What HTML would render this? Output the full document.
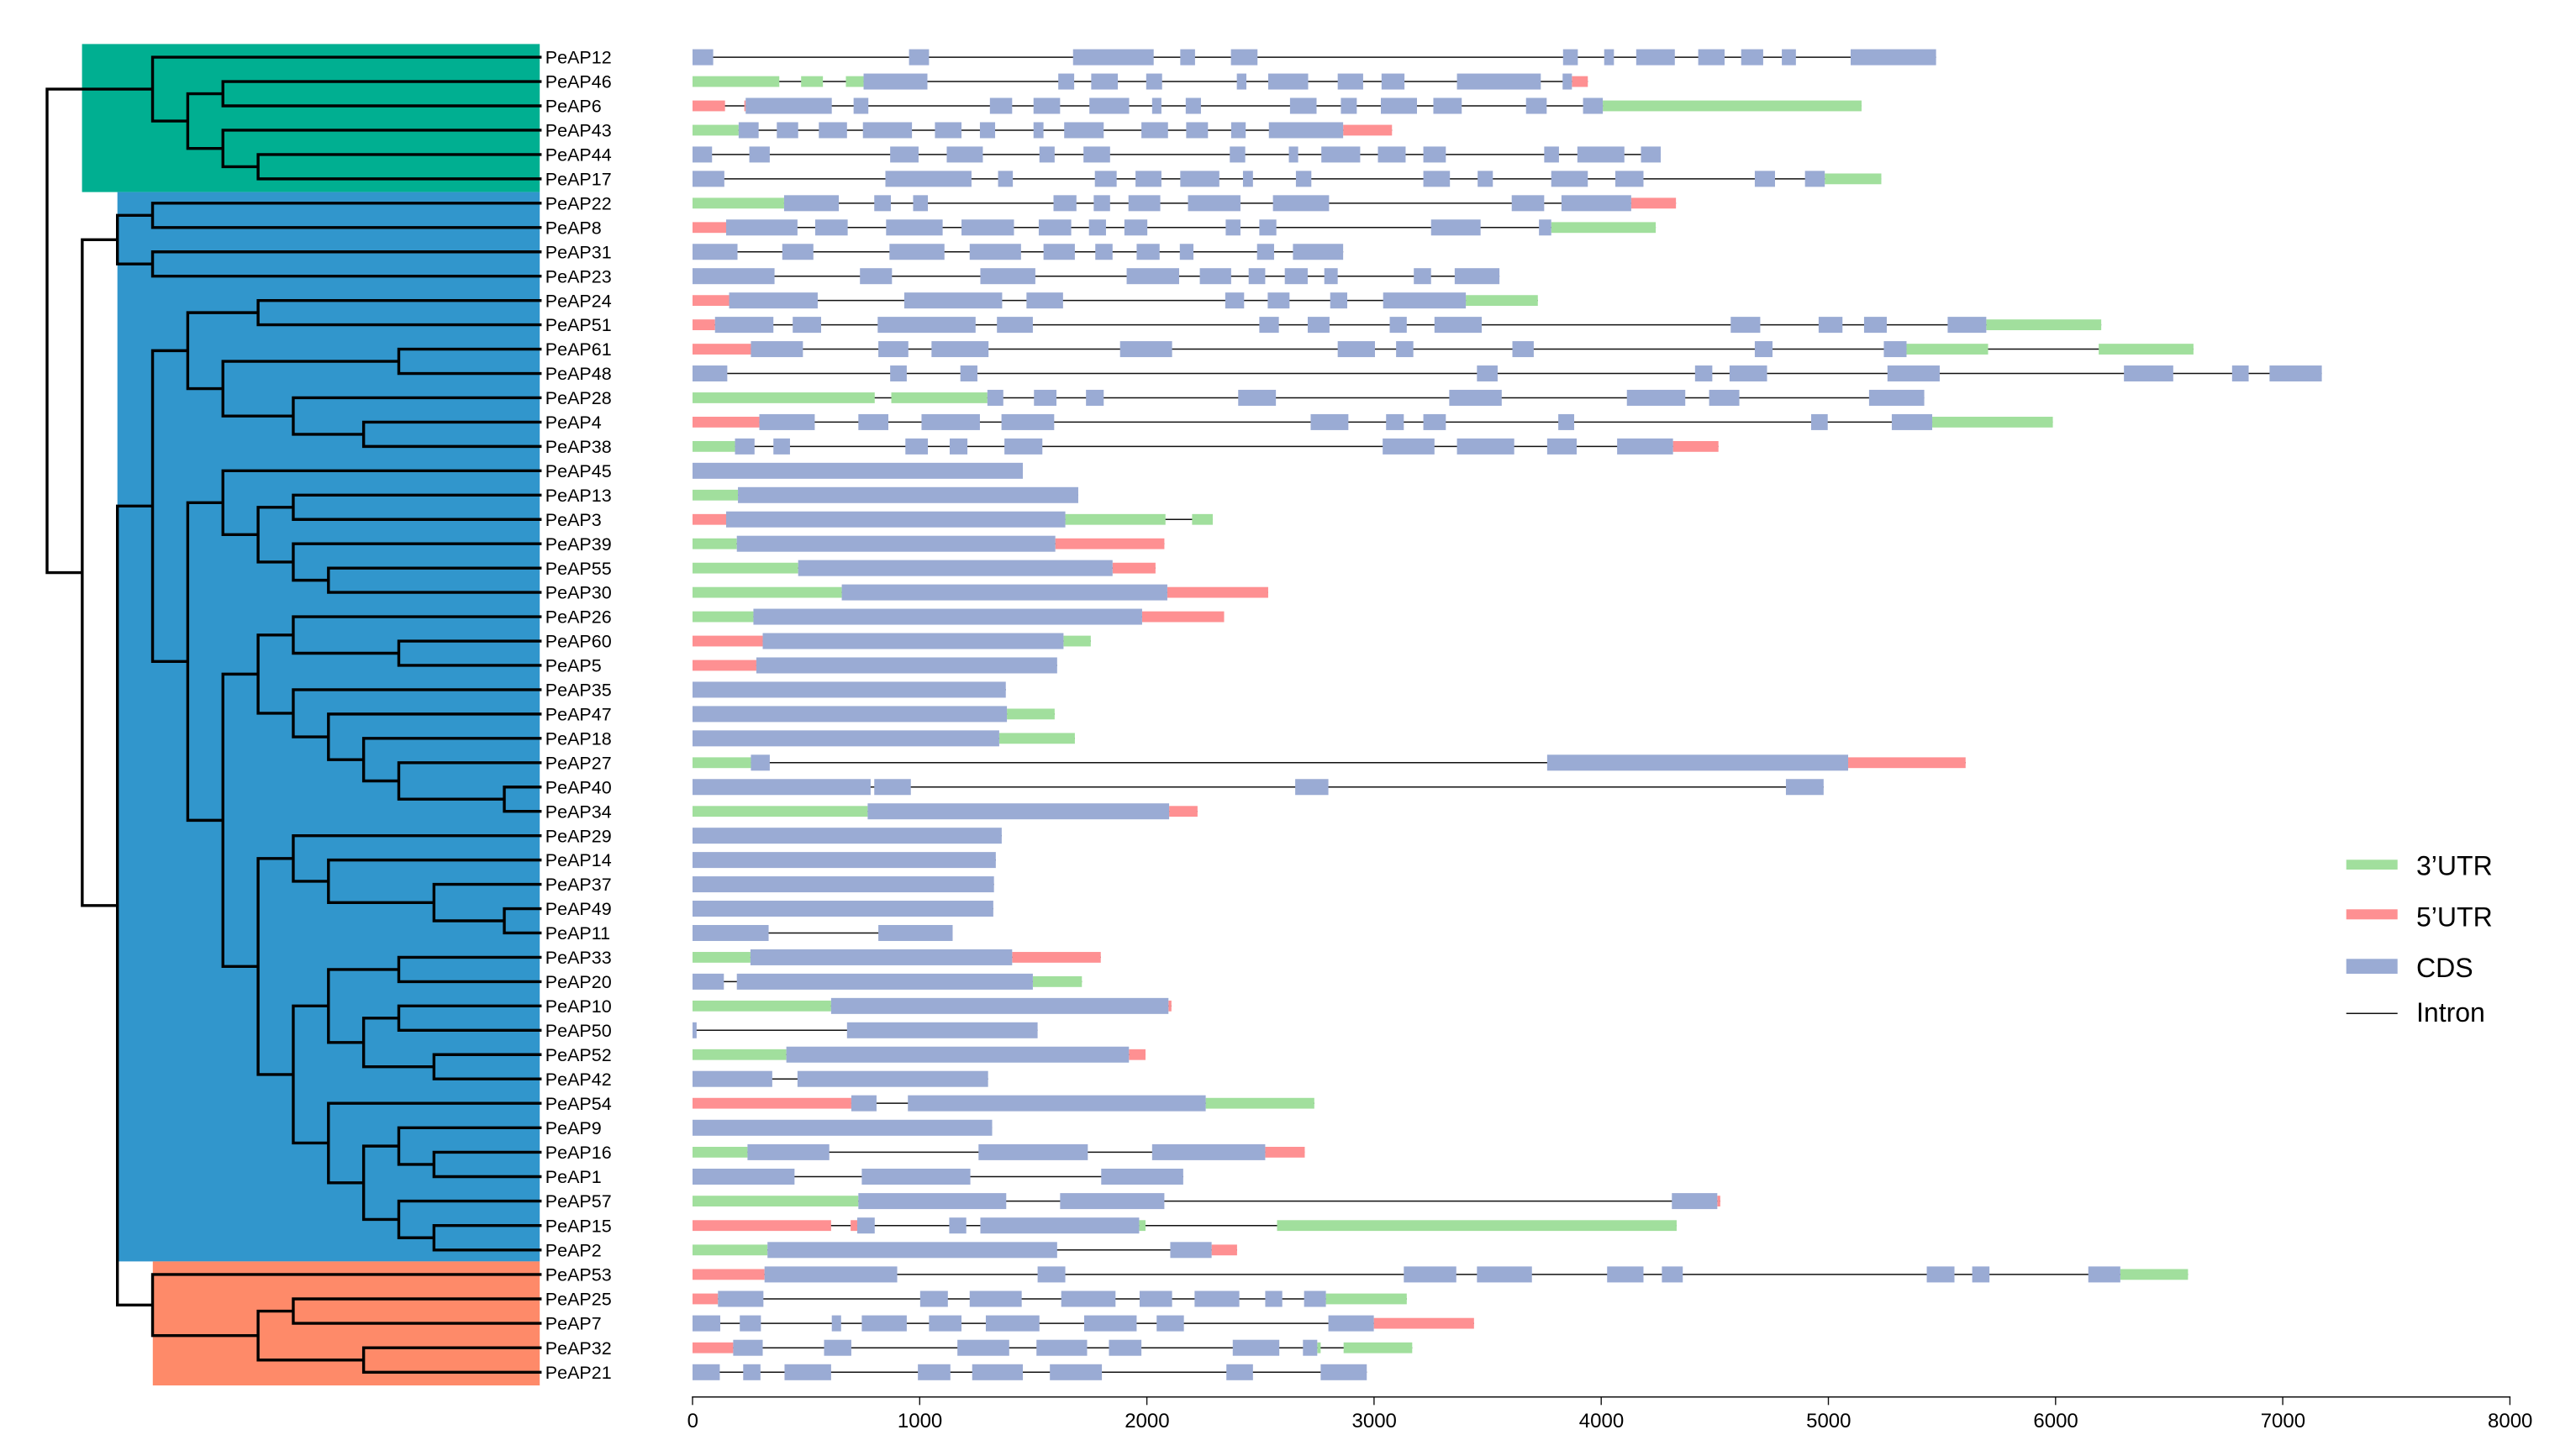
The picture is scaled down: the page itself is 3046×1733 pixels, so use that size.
<!DOCTYPE html>
<html lang="en">
<head>
<meta charset="utf-8">
<title>PeAP gene structure and phylogeny</title>
<style>
html,body{margin:0;padding:0;background:#fff;width:3046px;height:1733px;overflow:hidden}
svg{display:block}
text{font-family:"Liberation Sans",Arial,sans-serif;fill:#000}
</style>
</head>
<body>
<svg id="chart" xmlns="http://www.w3.org/2000/svg" width="3046" height="1733" viewBox="0 0 3046 1733">
  <rect x="0" y="0" width="3046" height="1733" fill="#ffffff"/>
  <g id="clades">
    <rect x="97.6" y="52.4" width="544.6" height="176.2" fill="#00AF91"/>
    <rect x="139.7" y="228.6" width="502.5" height="1272.8" fill="#3196CC"/>
    <rect x="181.8" y="1501.4" width="460.4" height="147.6" fill="#FE8A69"/>
  </g>
  <g id="tree"></g>
  <g id="labels"></g>
  <g id="genes"></g>
  <g id="axis"></g>
  <g id="legend">
    <g>
      <rect x="2791.7" y="1023.3" width="61" height="11.7" fill="#A1DF9D"/>
      <text x="2875" y="1041.7" font-size="32">3’UTR</text>
    </g>
    <g>
      <rect x="2791.7" y="1082.3" width="61" height="12" fill="#FE9092"/>
      <text x="2875" y="1102.3" font-size="32">5’UTR</text>
    </g>
    <g>
      <rect x="2791.7" y="1141.3" width="61" height="17.7" fill="#9AABD4"/>
      <text x="2875" y="1163" font-size="32">CDS</text>
    </g>
    <g>
      <line x1="2791.7" x2="2852.7" y1="1206.3" y2="1206.3" stroke="#111" stroke-width="1.5"/>
      <text x="2875" y="1216" font-size="32">Intron</text>
    </g>
  </g>
</svg>
<script>
// Tree topology: [depth, child, child]; a string is a tip.
const treeTopology = [0,
  [3,'PeAP12',[4,[5,'PeAP46','PeAP6'],[5,'PeAP43',[6,'PeAP44','PeAP17']]]],
  [1,
    [2,[3,'PeAP22','PeAP8'],[3,'PeAP31','PeAP23']],
    [2,
      [3,
        [4,
          [6,'PeAP24','PeAP51'],
          [5,[10,'PeAP61','PeAP48'],[7,'PeAP28',[9,'PeAP4','PeAP38']]]
        ],
        [4,
          [5,'PeAP45',[6,[7,'PeAP13','PeAP3'],[7,'PeAP39',[8,'PeAP55','PeAP30']]]],
          [5,
            [6,
              [7,'PeAP26',[10,'PeAP60','PeAP5']],
              [7,'PeAP35',[8,'PeAP47',[9,'PeAP18',[10,'PeAP27',[13,'PeAP40','PeAP34']]]]]
            ],
            [6,
              [7,'PeAP29',[8,'PeAP14',[11,'PeAP37',[13,'PeAP49','PeAP11']]]],
              [7,
                [8,[10,'PeAP33','PeAP20'],[9,[10,'PeAP10','PeAP50'],[11,'PeAP52','PeAP42']]],
                [8,'PeAP54',[9,[10,'PeAP9',[11,'PeAP16','PeAP1']],[10,'PeAP57',[11,'PeAP15','PeAP2']]]]
              ]
            ]
          ]
        ]
      ],
      [3,'PeAP53',[6,[7,'PeAP25','PeAP7'],[9,'PeAP32','PeAP21']]]
    ]
  ]
];

// Coding exons, base pairs from gene start.
const cds = {
PeAP12:[[0,91],[953,1041],[1675,2030],[2147,2212],[2370,2487],[3832,3897],[4013,4056],[4154,4324],[4427,4543],[4616,4713],[4795,4857],[5098,5474]],
PeAP46:[[753,1034],[1610,1680],[1755,1872],[1997,2067],[2396,2438],[2534,2710],[2840,2952],[3033,3134],[3365,3734],[3830,3871]],
PeAP6:[[234,613],[709,774],[1309,1407],[1501,1618],[1747,1922],[2023,2064],[2171,2238],[2630,2747],[2854,2924],[3030,3189],[3261,3386],[3669,3760],[3920,4007]],
PeAP43:[[203,291],[371,465],[556,680],[750,966],[1067,1184],[1265,1332],[1501,1545],[1636,1810],[1976,2093],[2173,2269],[2371,2435],[2537,2864]],
PeAP44:[[0,86],[250,340],[870,995],[1119,1278],[1527,1594],[1721,1838],[2365,2433],[2625,2666],[2768,2939],[3017,3139],[3217,3316],[3749,3814],[3895,4102],[4175,4262]],
PeAP17:[[0,140],[849,1228],[1345,1410],[1771,1867],[1950,2064],[2147,2319],[2423,2467],[2656,2724],[3217,3334],[3456,3523],[3780,3941],[4062,4186],[4676,4765],[4897,4984]],
PeAP22:[[403,644],[800,873],[971,1036],[1589,1690],[1766,1838],[1919,2059],[2181,2412],[2555,2802],[3606,3749],[3825,4132]],
PeAP8:[[148,462],[540,683],[852,1101],[1184,1415],[1524,1667],[1745,1820],[1901,2002],[2347,2412],[2495,2570],[3251,3469],[3726,3780]],
PeAP31:[[0,198],[395,532],[867,1109],[1220,1446],[1545,1683],[1773,1849],[1955,2056],[2145,2205],[2485,2560],[2643,2864]],
PeAP23:[[0,361],[737,878],[1267,1509],[1911,2142],[2233,2371],[2448,2521],[2607,2708],[2781,2840],[3175,3251],[3355,3552]],
PeAP24:[[161,551],[932,1363],[1470,1631],[2345,2428],[2532,2628],[2807,2882],[3040,3404]],
PeAP51:[[99,356],[441,566],[815,1246],[1340,1498],[2495,2581],[2708,2804],[3069,3144],[3266,3474],[4570,4700],[4957,5062],[5157,5257],[5525,5695]],
PeAP61:[[257,486],[818,950],[1052,1303],[1882,2111],[2840,3004],[3097,3173],[3609,3703],[4676,4754],[5244,5344]],
PeAP48:[[0,153],[870,943],[1179,1254],[3453,3544],[4413,4489],[4565,4730],[5260,5490],[6301,6518],[6777,6850],[6942,7172]],
PeAP28:[[1298,1368],[1503,1602],[1732,1810],[2402,2568],[3331,3562],[4113,4370],[4475,4608],[5179,5422]],
PeAP4:[[294,538],[730,862],[1008,1265],[1360,1592],[2721,2887],[3053,3131],[3217,3316],[3811,3881],[4924,4997],[5279,5457]],
PeAP38:[[187,273],[356,429],[937,1036],[1132,1210],[1373,1540],[3038,3266],[3365,3617],[3762,3892],[4070,4316]],
PeAP45:[[0,1454]],
PeAP13:[[200,1698]],
PeAP3:[[148,1641]],
PeAP39:[[195,1597]],
PeAP55:[[465,1849]],
PeAP30:[[657,2090]],
PeAP26:[[268,1979]],
PeAP60:[[309,1633]],
PeAP5:[[281,1605]],
PeAP35:[[0,1379]],
PeAP47:[[0,1384]],
PeAP18:[[0,1350]],
PeAP27:[[257,340],[3762,5087]],
PeAP40:[[0,784],[800,961],[2653,2799],[4813,4979]],
PeAP34:[[771,2098]],
PeAP29:[[0,1361]],
PeAP14:[[0,1335]],
PeAP37:[[0,1327]],
PeAP49:[[0,1324]],
PeAP11:[[0,335],[818,1145]],
PeAP33:[[255,1407]],
PeAP20:[[0,138],[195,1498]],
PeAP10:[[610,2095]],
PeAP50:[[0,18],[680,1519]],
PeAP52:[[413,1921]],
PeAP42:[[0,351],[462,1301]],
PeAP54:[[699,810],[948,2259]],
PeAP9:[[0,1319]],
PeAP16:[[242,602],[1259,1740],[2023,2521]],
PeAP1:[[0,449],[745,1223],[1799,2160]],
PeAP57:[[730,1381],[1618,2077],[4311,4511]],
PeAP15:[[725,802],[1130,1205],[1267,1966]],
PeAP2:[[330,1605],[2103,2285]],
PeAP53:[[317,901],[1519,1641],[3131,3362],[3453,3695],[4026,4186],[4267,4359],[5433,5555],[5633,5709],[6144,6285]],
PeAP25:[[112,312],[1002,1124],[1220,1449],[1623,1862],[1968,2111],[2210,2407],[2521,2596],[2692,2788]],
PeAP7:[[0,122],[208,301],[613,654],[745,943],[1041,1184],[1291,1527],[1724,1955],[2043,2163],[2799,2999]],
PeAP32:[[179,309],[579,699],[1166,1394],[1514,1737],[1833,1976],[2378,2583],[2687,2750]],
PeAP21:[[0,120],[223,299],[405,610],[992,1135],[1231,1454],[1573,1802],[2350,2467],[2765,2968]]
};

// Segments drawn with the 3'UTR legend colour.
const utr3 = {
PeAP46:[[0,382],[478,574],[675,753]],
PeAP6:[[4007,5146]],
PeAP43:[[0,203]],
PeAP17:[[4984,5233]],
PeAP22:[[0,403]],
PeAP8:[[3780,4240]],
PeAP24:[[3404,3721]],
PeAP51:[[5695,6201]],
PeAP61:[[5344,5703],[6190,6607]],
PeAP28:[[0,802],[875,1298]],
PeAP4:[[5457,5988]],
PeAP38:[[0,187]],
PeAP13:[[0,200]],
PeAP3:[[1641,2082],[2199,2290]],
PeAP39:[[0,195]],
PeAP55:[[0,465]],
PeAP30:[[0,657]],
PeAP26:[[0,268]],
PeAP60:[[1633,1753]],
PeAP47:[[1384,1594]],
PeAP18:[[1350,1683]],
PeAP27:[[0,257]],
PeAP34:[[0,771]],
PeAP33:[[0,255]],
PeAP20:[[1498,1714]],
PeAP10:[[0,610]],
PeAP52:[[0,413]],
PeAP54:[[2259,2737]],
PeAP16:[[0,242]],
PeAP57:[[0,730]],
PeAP15:[[1966,1994],[2573,4332]],
PeAP2:[[0,330]],
PeAP53:[[6285,6583]],
PeAP25:[[2788,3144]],
PeAP32:[[2750,2765],[2866,3168]]
};

// Segments drawn with the 5'UTR legend colour.
const utr5 = {
PeAP46:[[3871,3941]],
PeAP6:[[0,143],[228,234]],
PeAP43:[[2864,3079]],
PeAP22:[[4132,4329]],
PeAP8:[[0,148]],
PeAP24:[[0,161]],
PeAP51:[[0,99]],
PeAP61:[[0,257]],
PeAP4:[[0,294]],
PeAP38:[[4316,4516]],
PeAP3:[[0,148]],
PeAP39:[[1597,2077]],
PeAP55:[[1849,2038]],
PeAP30:[[2090,2534]],
PeAP26:[[1979,2340]],
PeAP60:[[0,309]],
PeAP5:[[0,281]],
PeAP27:[[5087,5604]],
PeAP34:[[2098,2223]],
PeAP33:[[1407,1797]],
PeAP10:[[2095,2108]],
PeAP52:[[1921,1994]],
PeAP54:[[0,699]],
PeAP16:[[2521,2695]],
PeAP57:[[4511,4524]],
PeAP15:[[0,610],[696,725]],
PeAP2:[[2285,2397]],
PeAP53:[[0,317]],
PeAP25:[[0,112]],
PeAP7:[[2999,3440]],
PeAP32:[[0,179]]
};

const axisTicks = [0,1000,2000,3000,4000,5000,6000,7000,8000];

const NS = 'http://www.w3.org/2000/svg';
function make(tag, parent, attrs) {
  const el = document.createElementNS(NS, tag);
  for (const k in attrs) el.setAttribute(k, attrs[k]);
  parent.appendChild(el);
  return el;
}
function xBp(bp) { return 824 + bp * 0.2703; }
function yRow(i) { return i <= 43 ? 68.1 + i * 28.955 : 1313.2 + (i - 43) * 29.1; }
function xDepth(d) { return 56 + d * 41.85; }
const tipDepth = 14.02;

const treeG = document.getElementById('tree');
const labelG = document.getElementById('labels');
const geneG = document.getElementById('genes');
const axisG = document.getElementById('axis');

// Tree: tips take consecutive rows; an inner node sits at the midpoint of its children.
const tipOrder = [];
let treePathData = '';
function layout(node) {
  if (typeof node === 'string') {
    tipOrder.push(node);
    return { y: yRow(tipOrder.length - 1), x: xDepth(tipDepth) };
  }
  const depth = node[0];
  const x = xDepth(depth);
  const kids = node.slice(1).map(layout);
  const top = kids[0].y;
  const bottom = kids[kids.length - 1].y;
  treePathData += 'M' + x + ' ' + top + 'V' + bottom;
  kids.forEach(function (k) {
    treePathData += 'M' + x + ' ' + k.y + 'H' + k.x;
  });
  return { y: (top + bottom) / 2, x: x };
}
layout(treeTopology);
const treePath = make('path', treeG, {
  d: treePathData, fill: 'none', stroke: '#000', 'stroke-width': 3.4, 'stroke-linecap': 'square'
});



function drawSegments(parent, list, y, height, color, name) {
  (list || []).forEach(function (s) {
    const r = make('rect', parent, {
      x: xBp(s[0]), y: y - height / 2, width: xBp(s[1]) - xBp(s[0]), height: height, fill: color
    });
    
    
  });
}

tipOrder.forEach(function (gene, i) {
  const y = yRow(i);
  const label = make('text', labelG, { x: 648.8, y: y + 7.6, 'font-size': 21.5 });
  label.textContent = gene;
  
  

  const row = make('g', geneG, {});
  
  

  const all = [].concat(cds[gene] || [], utr3[gene] || [], utr5[gene] || []);
  const start = Math.min.apply(null, all.map(function (s) { return s[0]; }));
  const end = Math.max.apply(null, all.map(function (s) { return s[1]; }));
  const intron = make('line', row, {
    x1: xBp(start), x2: xBp(end), y1: y, y2: y, stroke: '#111', 'stroke-width': 1.5
  });
  
  

  drawSegments(row, utr3[gene], y, 12.8, '#A1DF9D', 'utr3-segment');
  drawSegments(row, utr5[gene], y, 12.8, '#FE9092', 'utr5-segment');
  drawSegments(row, cds[gene], y, 19, '#9AABD4', 'cds-segment');
});

// Axis
const axisY = 1662.7;
const axisLine = make('line', axisG, {
  x1: xBp(axisTicks[0]), x2: xBp(axisTicks[axisTicks.length - 1]), y1: axisY, y2: axisY,
  stroke: '#111', 'stroke-width': 1.5, 'stroke-linecap': 'square'
});


axisTicks.forEach(function (t) {
  const tick = make('line', axisG, {
    x1: xBp(t), x2: xBp(t), y1: axisY, y2: 1672.3, stroke: '#111', 'stroke-width': 1.4
  });
  
  
  const lab = make('text', axisG, {
    x: xBp(t) + 0.3, y: 1699, 'font-size': 24, 'text-anchor': 'middle'
  });
  lab.textContent = String(t);
  
  
});
</script>
</body>
</html>
